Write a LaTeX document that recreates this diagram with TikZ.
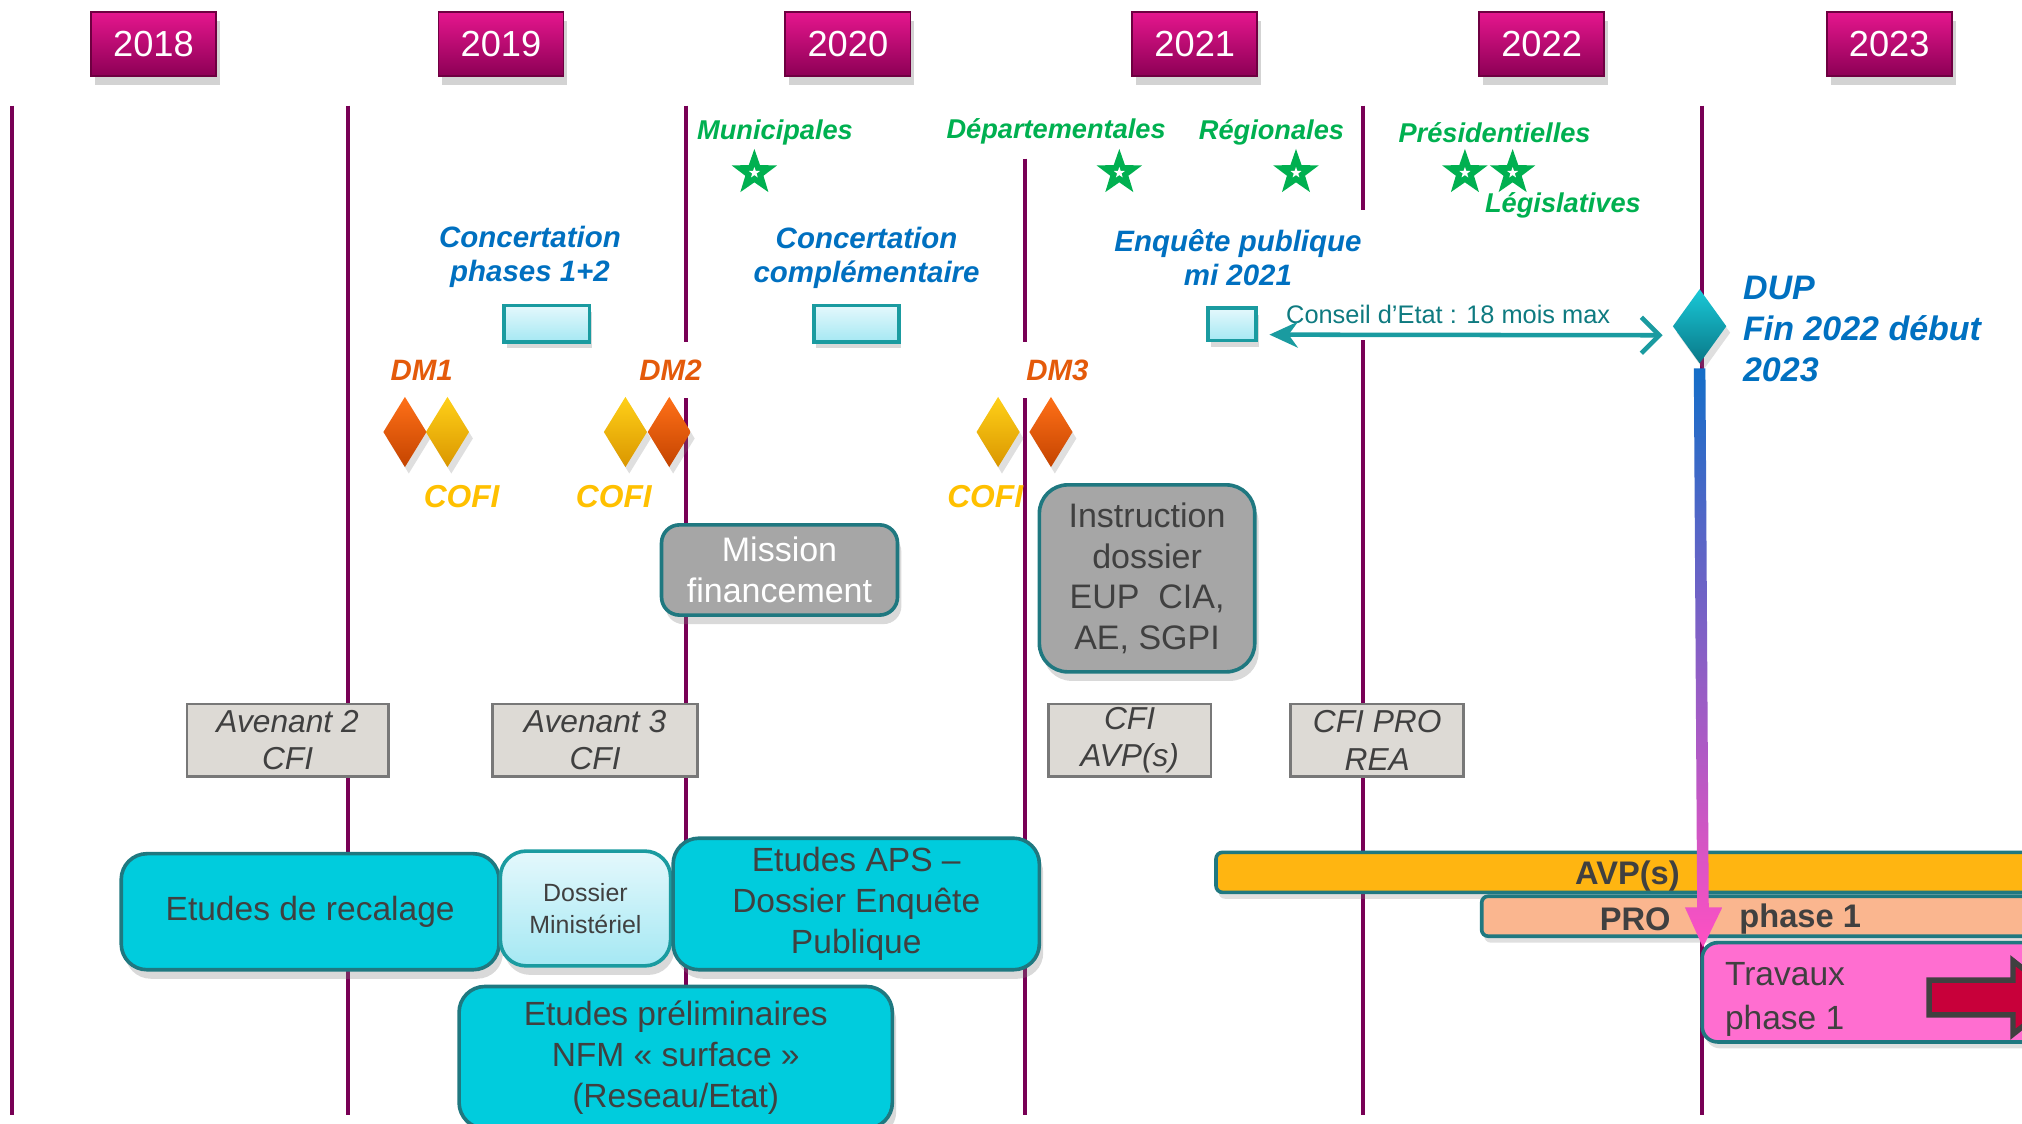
\documentclass[tikz,border=0pt]{standalone}
\usepackage{fontspec}
\setmainfont{Liberation Sans}
\usetikzlibrary{shapes.geometric,arrows.meta,calc,shadows}

\definecolor{yeartop}{RGB}{230,22,142}
\definecolor{yearbot}{RGB}{140,0,85}
\definecolor{yearedge}{RGB}{110,0,65}
\definecolor{linepurple}{RGB}{120,0,85}
\definecolor{elecgreen}{RGB}{0,176,80}
\definecolor{concblue}{RGB}{0,112,192}
\definecolor{tealline}{RGB}{26,155,160}
\definecolor{tealedge}{RGB}{31,120,128}
\definecolor{cyanlight}{RGB}{228,248,252}
\definecolor{cyanmid}{RGB}{165,232,243}
\definecolor{conseilteal}{RGB}{14,122,128}
\definecolor{duptop}{RGB}{25,200,215}
\definecolor{dupbot}{RGB}{10,120,135}
\definecolor{dmorange}{RGB}{228,90,10}
\definecolor{gemorangetop}{RGB}{255,112,24}
\definecolor{gemorangebot}{RGB}{196,68,0}
\definecolor{cofiyellow}{RGB}{255,192,0}
\definecolor{gemyellowtop}{RGB}{255,208,24}
\definecolor{gemyellowbot}{RGB}{218,150,0}
\definecolor{grayfill}{RGB}{166,166,166}
\definecolor{darktext}{RGB}{64,64,64}
\definecolor{cfigray}{RGB}{221,218,213}
\definecolor{cfiedge}{RGB}{120,120,120}
\definecolor{boxcyan}{RGB}{0,204,221}
\definecolor{avpfill}{RGB}{255,181,17}
\definecolor{profill}{RGB}{250,182,143}
\definecolor{travfill}{RGB}{255,110,208}
\definecolor{blockred}{RGB}{200,0,58}
\definecolor{arrowblue}{RGB}{20,110,200}
\definecolor{arrowmid}{RGB}{165,100,205}
\definecolor{arrowpink}{RGB}{255,80,195}

\begin{document}
\begin{tikzpicture}[x=0.1mm,y=-0.1mm,
    yearbox/.style={rectangle, draw=yearedge, top color=yeartop, bottom color=yearbot,
        minimum width=9.7mm, minimum height=5mm, inner sep=0pt, text=white,
        font=\fontsize{8}{9}\selectfont,
        drop shadow={opacity=0.35, shadow xshift=0.3mm, shadow yshift=-0.7mm}},
    yearline/.style={draw=linepurple, line width=0.9pt},
    elec/.style={text=elecgreen, font=\fontsize{6}{7}\selectfont\bfseries\itshape, inner sep=0pt},
    elecstar/.style={star, star points=5, star point ratio=2.5, fill=elecgreen,
        minimum size=3.7mm, inner sep=0pt},
    innerstar/.style={star, star points=5, star point ratio=2.5, fill=white,
        minimum size=0.9mm, inner sep=0pt},
    conc/.style={text=concblue, font=\fontsize{6.5}{7.4}\selectfont\bfseries\itshape,
        align=center, inner sep=0pt},
    concbox/.style={rectangle, draw=tealline, line width=0.8pt, top color=cyanlight,
        bottom color=cyanmid, inner sep=0pt,
        drop shadow={opacity=0.3, shadow xshift=0.2mm, shadow yshift=-0.5mm}},
    dmgem/.style={diamond, minimum width=3.4mm, minimum height=5.5mm, inner sep=0pt,
        top color=gemorangetop, bottom color=gemorangebot,
        drop shadow={opacity=0.25, shadow xshift=0.3mm, shadow yshift=-0.5mm}},
    cofigem/.style={diamond, minimum width=3.4mm, minimum height=5.5mm, inner sep=0pt,
        top color=gemyellowtop, bottom color=gemyellowbot,
        drop shadow={opacity=0.25, shadow xshift=0.3mm, shadow yshift=-0.5mm}},
    dmlabel/.style={text=dmorange, font=\fontsize{6.5}{7}\selectfont\bfseries\itshape, inner sep=0pt},
    cofilabel/.style={text=cofiyellow, font=\fontsize{7}{8}\selectfont\bfseries\itshape, inner sep=0pt},
    graybox/.style={rectangle, rounded corners=1.6mm, fill=grayfill, draw=tealedge,
        line width=0.8pt, align=center, inner sep=0pt,
        font=\fontsize{7.5}{9}\selectfont,
        drop shadow={opacity=0.3, shadow xshift=0.3mm, shadow yshift=-0.7mm}},
    cfibox/.style={rectangle, fill=cfigray, draw=cfiedge, line width=0.6pt,
        minimum height=5.6mm, inner sep=0pt, align=center, text=darktext,
        font=\fontsize{7}{8.3}\selectfont\itshape},
    cyanbox/.style={rectangle, rounded corners=2mm, fill=boxcyan, draw=tealedge,
        line width=0.8pt, align=center, inner sep=0pt, text=darktext,
        font=\fontsize{7.4}{9.1}\selectfont,
        drop shadow={opacity=0.3, shadow xshift=0.3mm, shadow yshift=-0.7mm}},
    barbox/.style={rectangle, rounded corners=0.5mm, draw=tealedge, line width=0.8pt,
        inner sep=0pt, minimum height=3.1mm,
        drop shadow={opacity=0.25, shadow xshift=0.2mm, shadow yshift=-0.5mm}},
    barlabel/.style={text=darktext, font=\fontsize{7.2}{8}\selectfont\bfseries, inner sep=0pt}
  ]
  \useasboundingbox (0,0) rectangle (1568,871.6);
  \clip (0,0) rectangle (1568,871.6);

  % year separators
  \foreach \x/\a/\b in {9/82/865, 270/82/865, 532/82/265, 532/309/865, 795/123/265,
      795/309/865, 1057/82/163, 1057/264/865, 1320/82/865}
    \draw[yearline] (\x,\a) -- (\x,\b);

  % years
  \foreach \yr/\x in {2018/119, 2019/388.5, 2020/657.5, 2021/926.5, 2022/1195.5, 2023/1465}
    \node[yearbox] (y\yr) at (\x,34) {\yr};

  % elections
  \node[elec] (municip) at (601,103) {Municipales};
  \node[elec] (depart) at (819,102) {Départementales};
  \node[elec] (region) at (986,103) {Régionales};
  \node[elec] (presid) at (1159,103) {Présidentielles};
  \node[elec] (legis) at (1212,159) {Législatives};
  \foreach \s/\x in {stmun/585, stdep/868, streg/1005, stpre/1136, stleg/1173} {
    \node[elecstar] (\s) at (\x,134) {};
    \node[innerstar] at (\s) {};
  }

  % concertations
  \node[conc] (conc12) at (411,199) {Concertation\\phases 1+2};
  \node[conc] (conccompl) at (672,200) {Concertation\\complémentaire};
  \node[conc] (enquete) at (960,200) {Enquête publique\\mi 2021};
  \node[concbox, minimum width=6.6mm, minimum height=2.8mm] (box12) at (424,251) {};
  \node[concbox, minimum width=6.6mm, minimum height=2.8mm] (boxcompl) at (664,251) {};
  \node[concbox, minimum width=3.7mm, minimum height=2.5mm] (boxenq) at (955.5,251.5) {};

  % DUP
  \node[diamond, minimum width=4.2mm, minimum height=5.8mm, inner sep=0pt,
        top color=duptop, bottom color=dupbot,
        drop shadow={opacity=0.25, shadow xshift=0.3mm, shadow yshift=-0.5mm}] (dup) at (1318,253) {};
  \node[anchor=west, align=left, text=concblue, inner sep=0pt,
        font=\fontsize{7.5}{9.1}\selectfont\bfseries\itshape] (dupnote) at (1351,255)
        {DUP\\Fin 2022 début\\2023};
  \node[text=conseilteal, inner sep=0pt, font=\fontsize{5.6}{6.5}\selectfont] (conseil) at (1123,244)
        {Conseil d’Etat : 18 mois max};
  \draw[draw=tealline, line width=1pt,
        {Stealth[length=2.2mm,width=2mm]}-{Straight Barb[length=1.4mm,width=2.8mm]},
        shorten <=0.9mm, shorten >=0.7mm]
        ([yshift=-0.8mm]boxenq.east) -- ([yshift=-0.7mm]dup.west);

  % DM / COFI
  \foreach \g/\x/\kind in {dmA/314/dmgem, cofiA/347/cofigem, cofiB/485/cofigem,
      dmB/519/dmgem, cofiC/774/cofigem, dmC/815/dmgem}
    \node[\kind] (\g) at (\x,335) {};
  \node[dmlabel] (dmone) at (327,287) {DM1};
  \node[dmlabel] (dmtwo) at (520,287) {DM2};
  \node[dmlabel] (dmthree) at (820,287) {DM3};
  \node[cofilabel] (cofione) at (358,385) {COFI};
  \node[cofilabel] (cofitwo) at (476,385) {COFI};
  \node[cofilabel] (cofithree) at (764,385) {COFI};

  % gray boxes
  \node[graybox, text=white, minimum width=18.3mm, minimum height=7mm, rounded corners=1.4mm]
        (mission) at (604.5,442) {Mission\\financement};
  \node[graybox, text=darktext, minimum width=16.7mm, minimum height=14.5mm, rounded corners=2.2mm]
        (instr) at (889.5,448.5) {Instruction\\dossier\\EUP\ \ CIA,\\AE, SGPI};

  % CFI
  \node[cfibox, minimum width=15.6mm] (cfiA) at (223,574) {Avenant 2\\CFI};
  \node[cfibox, minimum width=15.9mm] (cfiB) at (461.5,574) {Avenant 3\\CFI};
  \node[cfibox, minimum width=12.6mm] (cfiC) at (876,574) {CFI\\AVP(s)};
  \node[cfibox, minimum width=13.4mm] (cfiD) at (1068,574) {CFI PRO\\REA};

  % studies
  \node[cyanbox, minimum width=29.3mm, minimum height=9mm] (recal) at (240.5,707) {Etudes de recalage};
  \node[cyanbox, minimum width=13.2mm, minimum height=8.9mm, top color=cyanlight, bottom color=cyanmid,
        draw=tealline, font=\fontsize{5.5}{7.1}\selectfont] (dossier) at (454,704.5) {Dossier\\Ministériel};
  \node[cyanbox, minimum width=28.4mm, minimum height=10.2mm] (aps) at (664,701)
        {Etudes APS –\\Dossier Enquête\\Publique};
  \node[cyanbox, minimum width=33.6mm, minimum height=11mm] (prelim) at (524,820)
        {Etudes préliminaires\\NFM « surface »\\(Reseau/Etat)};

  % phases
  \node[barbox, fill=avpfill, minimum width=64mm] (avp) at (1263,676.5) {};
  \node[barlabel] (avplbl) at (1262,679) {AVP(s)};
  \node[barbox, fill=profill, minimum width=46.2mm] (pro) at (1380,710.5) {};
  \node[barlabel] (prolbl) at (1268,712.5) {PRO};
  \node[barlabel] (phaselbl) at (1396,712.5) {phase 1};
  \node[barbox, fill=travfill, minimum width=30mm, minimum height=7.7mm, rounded corners=1.2mm]
        (trav) at (1470,769.5) {};
  \node[anchor=west, align=left, text=darktext, inner sep=0pt,
        font=\fontsize{7.4}{9.7}\selectfont] (travlbl) at (1337,775) {Travaux\\phase 1};
  \draw[fill=blockred, draw=darktext, line width=1.2pt]
        (1496,760) -- (1561,760) -- (1561,745) -- (1597,773.5) -- (1561,802)
        -- (1561,787) -- (1496,787) -- cycle;

  % DUP -> travaux
  \shade[top color=arrowblue, middle color=arrowmid, bottom color=arrowpink]
        ($(dup.south)+(-4.5,3)$) -- ($(dup.south)+(4.5,3)$)
        -- ($(trav.north west)+(6.5,-26)$) -- ($(trav.north west)+(17,-26)$)
        -- ($(trav.north west)+(2,5)$) -- ($(trav.north west)+(-12,-26)$)
        -- ($(trav.north west)+(-2.5,-26)$) -- cycle;
\end{tikzpicture}
\end{document}
